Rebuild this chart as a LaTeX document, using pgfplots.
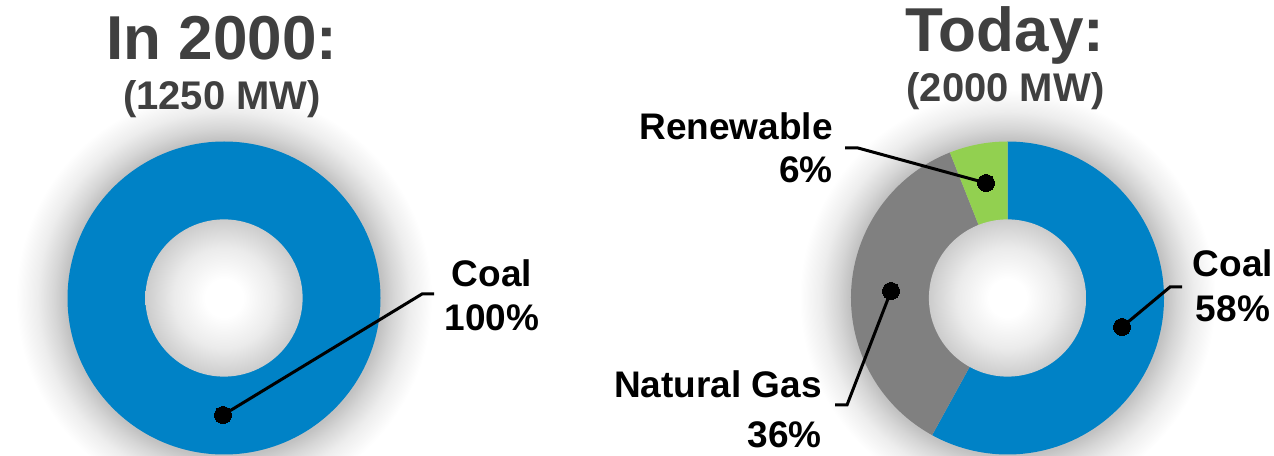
\documentclass[border=0pt]{standalone}
\usepackage{pgfplots}
\usepackage{pgfplotstable}
\pgfplotsset{compat=1.18}
\usepackage{fontspec}
\setmainfont{Liberation Sans}

\definecolor{colCoal}{HTML}{0082C6}
\definecolor{colGas}{HTML}{808080}
\definecolor{colRenew}{HTML}{92D050}
\definecolor{titlegray}{HTML}{404040}
\definecolor{haloA}{HTML}{C2C2C2}
\definecolor{haloB}{HTML}{D6D6D6}
\definecolor{haloC}{HTML}{EDEDED}
\definecolor{holeB}{HTML}{EBEBEB}
\definecolor{holeC}{HTML}{CCCCCC}

% soft glow around the ring and inner shadow in the hole
\pgfdeclareradialshading{halo}{\pgfpoint{0bp}{0bp}}{%
  color(0bp)=(haloA); color(19bp)=(haloA); color(20.4bp)=(haloB);
  color(22.4bp)=(haloC); color(25bp)=(white); color(50bp)=(white)}
\pgfdeclareradialshading{hole}{\pgfpoint{0bp}{0bp}}{%
  color(0bp)=(white); color(6bp)=(white); color(16bp)=(holeB);
  color(25bp)=(holeC); color(50bp)=(holeC)}

% generation mix, shares in percent
\pgfplotstableread{
source share
Coal   100
}\mixtwothousand

\pgfplotstableread{
source share
Coal   58
Gas    36
Renew  6
}\mixtoday

\newcommand\Rout{156.5bp}
\newcommand\Rin{78bp}

% donut ring from a share table, slices clockwise from 12 o'clock
\newcommand\drawdonut[3]{%
  \edef\tmp{\noexpand\shade[shading=halo] (axis cs:#2,#3) circle[radius=208bp];}\tmp
  \pgfplotstablegetrowsof{#1}%
  \pgfmathtruncatemacro\nrows{\pgfplotsretval-1}%
  \def\acc{0}%
  \pgfplotsforeachungrouped \rowi in {0,...,\nrows}{%
    \pgfplotstablegetelem{\rowi}{share}\of{#1}\let\val\pgfplotsretval
    \pgfplotstablegetelem{\rowi}{source}\of{#1}\let\src\pgfplotsretval
    \pgfmathsetmacro\aStart{90-3.6*\acc}%
    \pgfmathsetmacro\acc{\acc+\val}%
    \pgfmathsetmacro\aEnd{90-3.6*\acc}%
    \edef\tmp{\noexpand\fill[col\src]
      ([shift={(\aStart:\Rout)}]axis cs:#2,#3)
      arc[start angle=\aStart, end angle=\aEnd, radius=\Rout]
      -- ([shift={(\aEnd:\Rin)}]axis cs:#2,#3)
      arc[start angle=\aEnd, end angle=\aStart, radius=\Rin] -- cycle;}%
    \tmp
  }%
  \edef\tmp{\noexpand\shade[shading=hole] (axis cs:#2,#3) circle[radius=78.6bp];}\tmp
}

\tikzset{
  ttl/.style={anchor=base, inner sep=0pt, text=titlegray,
    font=\fontsize{62bp}{70bp}\selectfont\bfseries},
  sub/.style={anchor=base, inner sep=0pt, text=titlegray,
    font=\fontsize{40bp}{46bp}\selectfont\bfseries},
  lbl/.style={inner sep=0pt, text=black,
    font=\fontsize{37bp}{44bp}\selectfont\bfseries},
  leader/.style={black, line width=3bp, mark=*, mark indices={1},
    mark size=8.5bp, mark options={fill=black, draw=black, line width=0pt}},
}

\begin{document}
\begin{tikzpicture}
\fill[white] (0,0) rectangle (1274bp,456bp);
\useasboundingbox (0,0) rectangle (1274bp,456bp);
\begin{axis}[
  at={(0,0)}, anchor=south west,
  width=1274bp, height=456bp, scale only axis,
  xmin=0, xmax=1274, ymin=0, ymax=456,
  hide axis, clip=true,
]
\drawdonut{\mixtwothousand}{224}{158}
\drawdonut{\mixtoday}{1007.5}{158}

% leader lines
\addplot[leader] coordinates {(223,41) (422,162) (434,162)};
\addplot[leader] coordinates {(986,273) (858,308) (845,308)};
\addplot[leader] coordinates {(891,165) (847,51) (835,51)};
\addplot[leader] coordinates {(1122,129) (1170,169) (1182,169)};

% titles
\node[ttl] at (axis cs:222,396) {In 2000:};
\node[sub] at (axis cs:222,346) {(1250 MW)};
\node[ttl] at (axis cs:1005,404) {Today:};
\node[sub] at (axis cs:1005.5,354) {(2000 MW)};

% slice labels
\node[lbl, anchor=base] at (axis cs:492,169) {Coal};
\node[lbl, anchor=base] at (axis cs:492,125) {100\%};
\node[lbl, anchor=base east] at (axis cs:833,316) {Renewable};
\node[lbl, anchor=base east] at (axis cs:833,273) {6\%};
\node[lbl, anchor=base east] at (axis cs:822,58) {Natural Gas};
\node[lbl, anchor=base east] at (axis cs:822,9) {36\%};
\node[lbl, anchor=base] at (axis cs:1233,179) {Coal};
\node[lbl, anchor=base] at (axis cs:1233,134) {58\%};
\end{axis}
\end{tikzpicture}
\end{document}
